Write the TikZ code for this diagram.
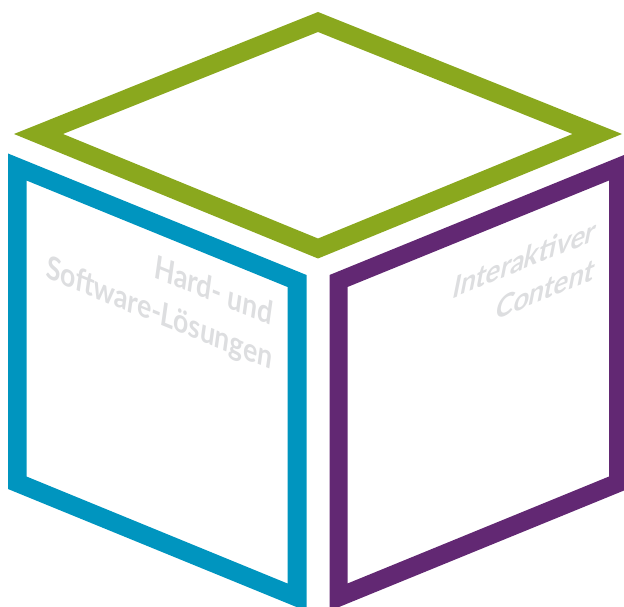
\documentclass[tikz,border=0pt]{standalone}
\usepackage{fontspec}
\setmainfont{Lato}
\definecolor{cubegreen}{HTML}{8AA81E}
\definecolor{cubeblue}{HTML}{0095BF}
\definecolor{cubepurple}{HTML}{622873}
\definecolor{labelgray}{HTML}{DDDEE0}
\tikzset{
  face/.style={even odd rule, draw=none},
  facelabel/.style={text=labelgray, font=\bfseries\fontsize{18}{24}\selectfont, align=right, anchor=base east, inner sep=0pt, transform shape}
}
\begin{document}
\begin{tikzpicture}[x=0.02cm, y=-0.02cm]
          \useasboundingbox (0, 0) rectangle (624, 607);

          % top
          \fill[face, cubegreen] (318, 12) -- (622, 134) -- (318, 258.5) -- (14, 134) -- cycle
            (318, 32) -- (572.5, 134) -- (318, 238.5) -- (63, 134) -- cycle;

          % left
          \fill[face, cubeblue] (8, 153.5) -- (306.5, 275) -- (306.5, 607) -- (296.5, 607) -- (8, 489) -- cycle
            (26.5, 180.5) -- (287.5, 287) -- (287.5, 583.5) -- (26.5, 476.5) -- cycle;

          % right
          \fill[face, cubepurple] (329.5, 275) -- (624, 155) -- (624, 490.5) -- (339, 607) -- (329.5, 607) -- cycle
            (347.5, 287) -- (609, 180.5) -- (609, 476.5) -- (347.5, 583.5) -- cycle;

          \begin{scope}[shift={(271, 370)}, cm={0.825,-0.337,0.14,1,(0,0)}]
            \node[facelabel] (hardsoft) at (0, 0) {Hard- und\kern4pt\\Software-Lösungen};
          \end{scope}
          \begin{scope}[shift={(593, 280)}, cm={0.86,0.352,0.2,1,(0,0)}]
            \node[facelabel] (interaktiv) at (0, 0) {Interaktiver\kern5pt\\Content};
          \end{scope}
        \end{tikzpicture}
\end{document}
